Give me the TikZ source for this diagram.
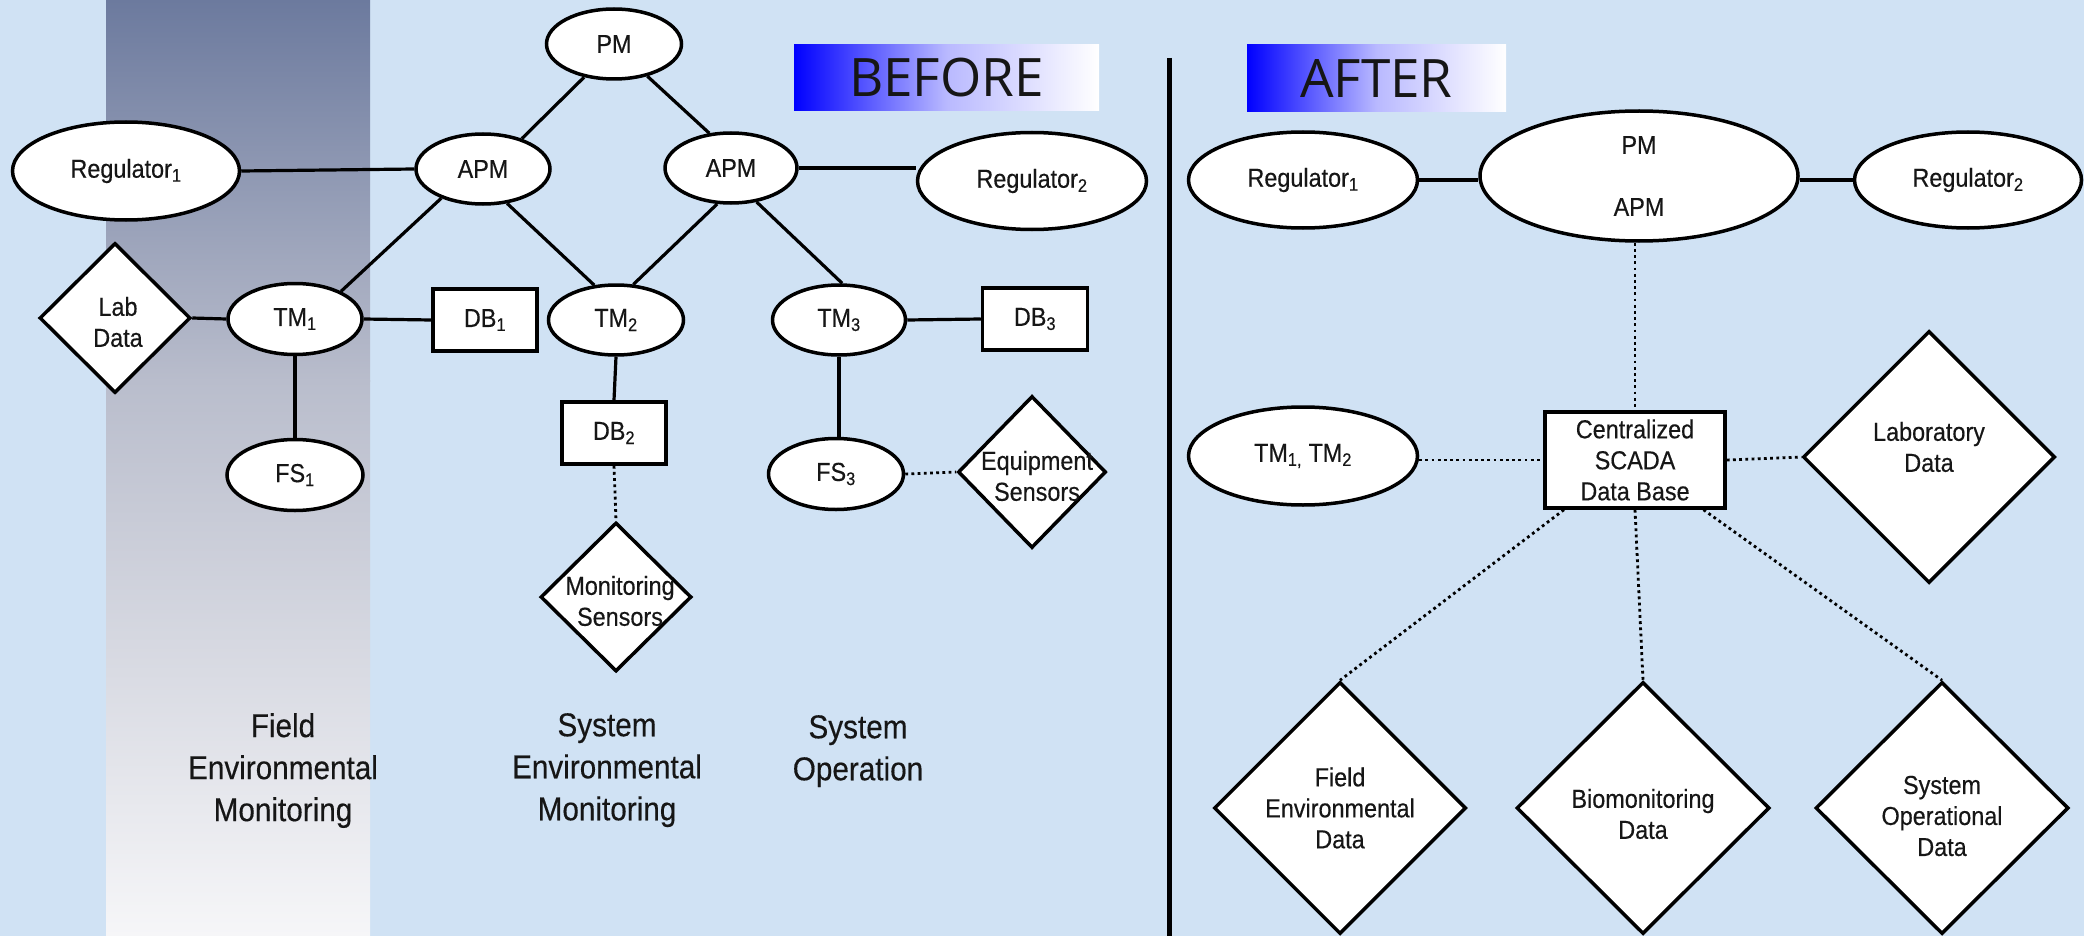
\documentclass[tikz,border=0pt]{standalone}
\usepackage{fontspec}
\setmainfont{Liberation Sans}[FakeStretch=0.9, FakeBold=0.35]
\newfontfamily\titlefont{Open Sans}
\usetikzlibrary{shapes.geometric}
\definecolor{bg}{RGB}{208,226,244}
\definecolor{bandtop}{RGB}{108,122,158}
\definecolor{bandmid}{RGB}{185,189,204}
\definecolor{bandbot}{RGB}{246,246,248}
\definecolor{ink}{RGB}{22,22,22}
\definecolor{titleblue}{RGB}{0,0,255}
\definecolor{titlemid}{RGB}{185,185,255}
\begin{document}
\begin{tikzpicture}[x=1pt,y=-1pt,
  every node/.style={text=ink, font=\fontsize{26}{31}\selectfont},
  ell/.style={ellipse, draw=black, line width=3.5pt, fill=white, inner sep=0pt},
  box/.style={rectangle, draw=black, line width=3.5pt, fill=white, inner sep=0pt, align=center},
  dia/.style={diamond, draw=black, line width=3.5pt, fill=white, inner sep=0pt},
  con/.style={draw=black, line width=3.2pt},
  dot/.style={draw=black, line width=2.8pt, dash pattern=on 2.8pt off 3.4pt},
  sect/.style={align=center, anchor=north, inner sep=0pt, font=\fontsize{33}{42}\selectfont},
  tbox/.style={rectangle, inner sep=0pt, left color=titleblue, right color=white, middle color=titlemid, font=\titlefont\fontsize{53}{60}\selectfont},
  dl/.style={align=center, inner sep=0pt}
]
\useasboundingbox (0,0) rectangle (2084,936);
\fill[bg] (0,0) rectangle (2084,936);
% gradient band
\shade[top color=bandtop, bottom color=bandmid] (106,0) rectangle (370,381);
\shade[top color=bandmid, bottom color=bandbot] (106,380) rectangle (370,936);
% divider
\draw[line width=5pt] (1169,58) -- (1169,936);
% titles
\node[tbox, minimum width=305pt, minimum height=66pt] (before) at (946.5,78) {BEFORE};
\node[tbox, minimum width=259pt, minimum height=67pt] (after) at (1376.5,78.5) {AFTER};

% BEFORE nodes
\node[ell, minimum width=227pt, minimum height=98pt] (reg1) at (126,171) {Regulator\textsubscript{1}};
\node[ell, minimum width=135pt, minimum height=70pt] (pm) at (614,44) {PM};
\node[ell, minimum width=134pt, minimum height=70pt] (apmL) at (483,169) {APM};
\node[ell, minimum width=132pt, minimum height=70pt] (apmR) at (731,168) {APM};
\node[ell, minimum width=229pt, minimum height=97pt] (reg2) at (1032,181) {Regulator\textsubscript{2}};
\node[dia, minimum width=151pt, minimum height=150pt, label={[dl, xshift=3pt, yshift=-4pt]center:{Lab\\Data}}] (lab) at (115,318) {};
\node[ell, minimum width=134pt, minimum height=71pt] (tm1) at (295,319) {TM\textsubscript{1}};
\node[box, minimum width=104pt, minimum height=62pt] (db1) at (485,320) {DB\textsubscript{1}};
\node[ell, minimum width=135pt, minimum height=70pt] (tm2) at (616,320) {TM\textsubscript{2}};
\node[box, minimum width=104pt, minimum height=62pt] (db2) at (614,433) {DB\textsubscript{2}};
\node[dia, minimum width=151pt, minimum height=149pt, label={[dl, xshift=4pt, yshift=-4pt]center:{Monitoring\\Sensors}}] (ms) at (616,597) {};
\node[ell, minimum width=133pt, minimum height=70pt] (tm3) at (839,320) {TM\textsubscript{3}};
\node[box, minimum width=105pt, minimum height=62pt] (db3) at (1035,319) {DB\textsubscript{3}};
\node[ell, minimum width=136pt, minimum height=71pt] (fs1) at (295,475) {FS\textsubscript{1}};
\node[ell, minimum width=135pt, minimum height=71pt] (fs3) at (836,474) {FS\textsubscript{3}};
\node[dia, minimum width=148pt, minimum height=152pt, label={[dl, xshift=5pt, yshift=-4pt]center:{Equipment\\Sensors}}] (es) at (1032,472) {};

% section labels
\node[sect] (lblfield) at (283,713) {Field\\Environmental\\Monitoring};
\node[sect] (lblsysenv) at (607,713) {System\\Environmental\\Monitoring};
\node[sect] (lblsysop) at (858,715) {System\\Operation};

% BEFORE connectors
\draw[con] (reg1.east) -- (apmL.west);
\draw[con] (pm.-132) -- (apmL.38);
\draw[con] (pm.-44) -- (apmR.122);
\draw[con] (apmL.-145) -- (tm1.31);
\draw[con] (apmL.-55) -- (tm2.122);
\draw[con] (apmR.-111) -- (tm2.64);
\draw[con] (apmR.-53) -- (tm3.85);
\draw[con] (apmR.east) -- (apmR.east -| reg2.west);
\draw[con] (lab.east) -- (tm1.west);
\draw[con] (tm1.east) -- (db1.west);
\draw[con] (tm1.south) -- (fs1.north);
\draw[con] (tm2.south) -- (db2.north);
\draw[dot] (db2.south) -- (ms.north);
\draw[con] (tm3.east) -- (db3.west);
\draw[con] (tm3.south) -- (tm3.south |- fs3.north);
\draw[dot] (fs3.east) -- (es.west);

% AFTER nodes
\node[ell, minimum width=229pt, minimum height=96pt] (reg1a) at (1303,180) {Regulator\textsubscript{1}};
\node[ell, minimum width=318pt, minimum height=130pt, align=center] (pmapm) at (1639,176) {PM\\[31pt]APM};
\node[ell, minimum width=227pt, minimum height=96pt] (reg2a) at (1968,180) {Regulator\textsubscript{2}};
\node[ell, minimum width=229pt, minimum height=98pt] (tm12) at (1303,456) {TM\textsubscript{1,} TM\textsubscript{2}};
\node[box, minimum width=180pt, minimum height=96pt] (scada) at (1635,460) {Centralized\\SCADA\\Data Base};
\node[dia, minimum width=252pt, minimum height=252pt, label={[dl, yshift=10pt]center:{Laboratory\\Data}}] (labd) at (1929,457) {};
\node[dia, minimum width=252pt, minimum height=252pt, label={[dl]center:{Field\\Environmental\\Data}}] (fed) at (1340,808) {};
\node[dia, minimum width=253pt, minimum height=252pt, label={[dl, yshift=-6pt]center:{Biomonitoring\\Data}}] (bio) at (1643,808) {};
\node[dia, minimum width=253pt, minimum height=252pt, label={[dl, yshift=-8pt]center:{System\\Operational\\Data}}] (sod) at (1942,808) {};

% AFTER connectors
\draw[con] (reg1a.east) -- (reg1a.east -| pmapm.west);
\draw[con] (reg2a.west -| pmapm.east) -- (reg2a.west);
\draw[dot] (scada.north |- pmapm.south) -- (scada.north);
\draw[dot] (scada.west -| tm12.east) -- (scada.west);
\draw[dot] (scada.east) -- (labd.west);
\draw[dot] (scada.-145) -- (fed.north);
\draw[dot] (scada.south) -- (bio.north);
\draw[dot] (scada.-36) -- (sod.north);
\end{tikzpicture}
\end{document}
